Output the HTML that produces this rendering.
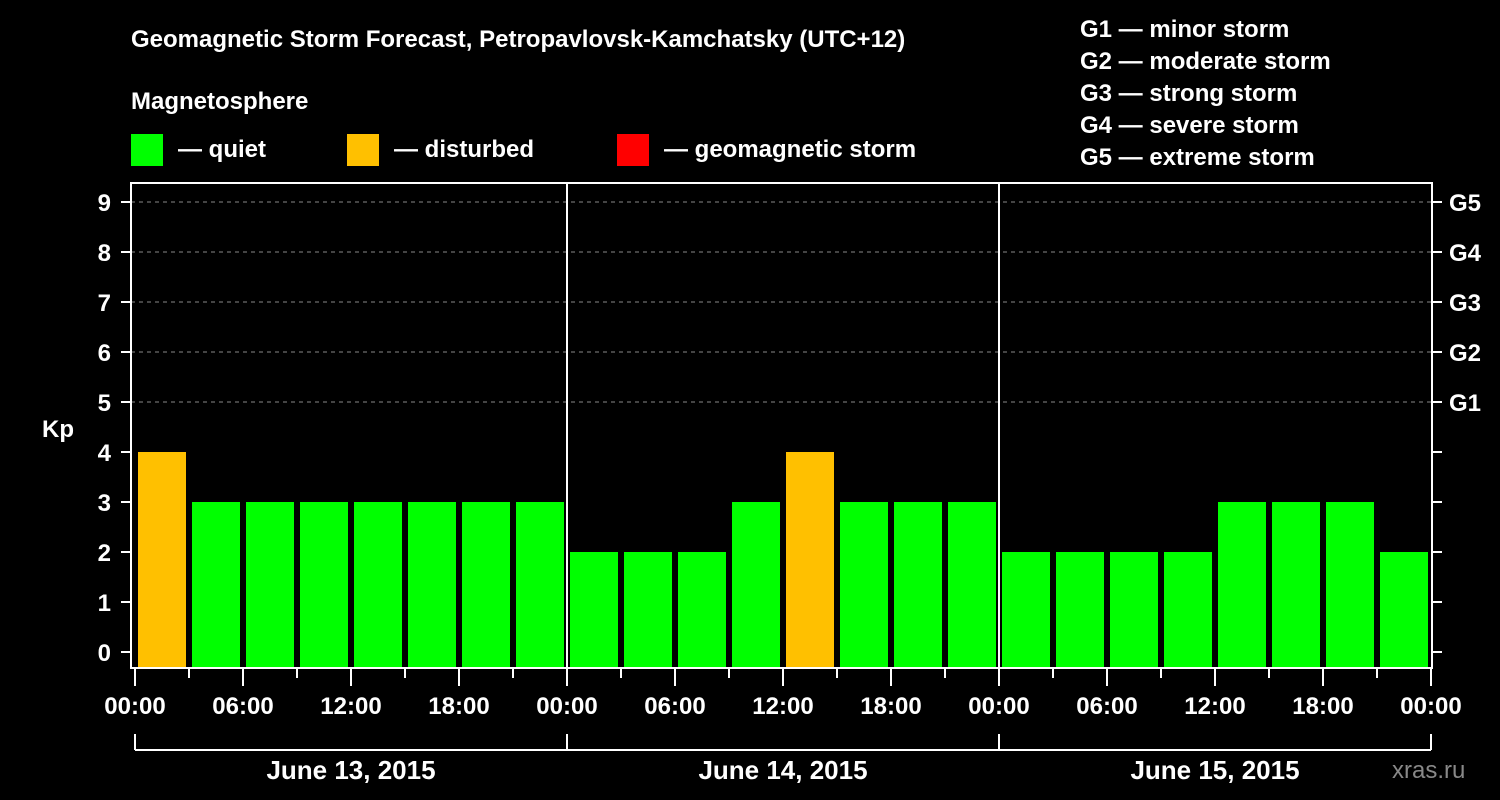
<!DOCTYPE html>
<html><head><meta charset="utf-8"><style>
body{margin:0;background:#000;width:1500px;height:800px;overflow:hidden}
svg{display:block;font-family:"Liberation Sans",Arial,sans-serif;font-weight:bold}
</style></head><body>
<svg id="c" width="1500" height="800" viewBox="0 0 1500 800">
<rect width="1500" height="800" fill="#000"/>
<text x="131" y="47" fill="#fff" font-size="24">Geomagnetic Storm Forecast, Petropavlovsk-Kamchatsky (UTC+12)</text>
<text x="131" y="109" fill="#fff" font-size="24">Magnetosphere</text>
<g><rect x="131" y="134" width="32" height="32" fill="#00ff00"/><text x="178" y="157" fill="#fff" font-size="24">— quiet</text></g>
<g><rect x="347" y="134" width="32" height="32" fill="#ffc000"/><text x="394" y="157" fill="#fff" font-size="24">— disturbed</text></g>
<g><rect x="617" y="134" width="32" height="32" fill="#ff0000"/><text x="664" y="157" fill="#fff" font-size="24">— geomagnetic storm</text></g>
<g fill="#fff" font-size="24">
<text x="1080" y="37">G1 — minor storm</text>
<text x="1080" y="69">G2 — moderate storm</text>
<text x="1080" y="101">G3 — strong storm</text>
<text x="1080" y="133">G4 — severe storm</text>
<text x="1080" y="165">G5 — extreme storm</text>
</g>
<text x="42" y="437" fill="#fff" font-size="24">Kp</text>
<text x="1392" y="778" fill="#888" font-size="24" font-weight="normal">xras.ru</text>
<g id="grid"></g><g id="bars"></g><g id="axes"></g>
</svg>
<script>
const days=["June 13, 2015","June 14, 2015","June 15, 2015"];
const kpValues=[4,3,3,3,3,3,3,3, 2,2,2,3,4,3,3,3, 2,2,2,2,3,3,3,2];
const yTicks=[0,1,2,3,4,5,6,7,8,9];
const gLabels=["G1","G2","G3","G4","G5"];
const hourLabels=["00:00","06:00","12:00","18:00"];
const NS="http://www.w3.org/2000/svg";
const L=131,R=1432,T=183,B=668,X0=135,DAYW=432;
const y=v=>652-50*v;
const x=h=>X0+h*(DAYW/24);
function mk(tag,attrs,parent,text){const e=document.createElementNS(NS,tag);for(const k in attrs)e.setAttribute(k,attrs[k]);if(text!==undefined)e.textContent=text;parent.appendChild(e);return e;}
const grid=document.getElementById('grid'),bars=document.getElementById('bars'),axes=document.getElementById('axes');
gLabels.forEach((g,i)=>{const v=5+i;
const ln=mk('line',{x1:L,x2:R,y1:y(v),y2:y(v),stroke:'#888','stroke-dasharray':'4,4'},grid);


const t=mk('text',{x:1449,y:y(v)+9,fill:'#fff','font-size':24},axes,g);

});
kpValues.forEach((v,i)=>{const col=v>=5?'#ff0000':(v>=4?'#ffc000':'#00ff00');
const r=mk('rect',{x:x(i*3)+3,y:y(v),width:48,height:B-1-y(v),fill:col},bars);

});
mk('rect',{x:L,y:T,width:R-L,height:B-T,fill:'none',stroke:'#fff','stroke-width':2},axes);
for(let d=1;d<days.length;d++){mk('line',{x1:x(24*d),x2:x(24*d),y1:T,y2:B,stroke:'#fff','stroke-width':2},axes);}
yTicks.forEach(v=>{mk('line',{x1:121,x2:L,y1:y(v),y2:y(v),stroke:'#fff','stroke-width':2},axes);
mk('line',{x1:R,x2:1442,y1:y(v),y2:y(v),stroke:'#fff','stroke-width':2},axes);
const t=mk('text',{x:111,y:y(v)+9,fill:'#fff','font-size':24,'text-anchor':'end'},axes,String(v));

});
for(let h=0;h<=24*days.length;h+=3){const major=h%6===0;
mk('line',{x1:x(h),x2:x(h),y1:B,y2:major?686:678,stroke:'#fff','stroke-width':2},axes);
if(major){const t=mk('text',{x:x(h),y:714,fill:'#fff','font-size':24,'text-anchor':'middle'},axes,hourLabels[(h/6)%4]);

}}
mk('line',{x1:x(0),x2:x(24*days.length),y1:750,y2:750,stroke:'#fff','stroke-width':2},axes);
for(let d=0;d<=days.length;d++)mk('line',{x1:x(24*d),x2:x(24*d),y1:734,y2:750,stroke:'#fff','stroke-width':2},axes);
days.forEach((d,i)=>{const t=mk('text',{x:x(24*i+12),y:779,fill:'#fff','font-size':26,'text-anchor':'middle'},axes,d);

});
</script>
</body></html>
